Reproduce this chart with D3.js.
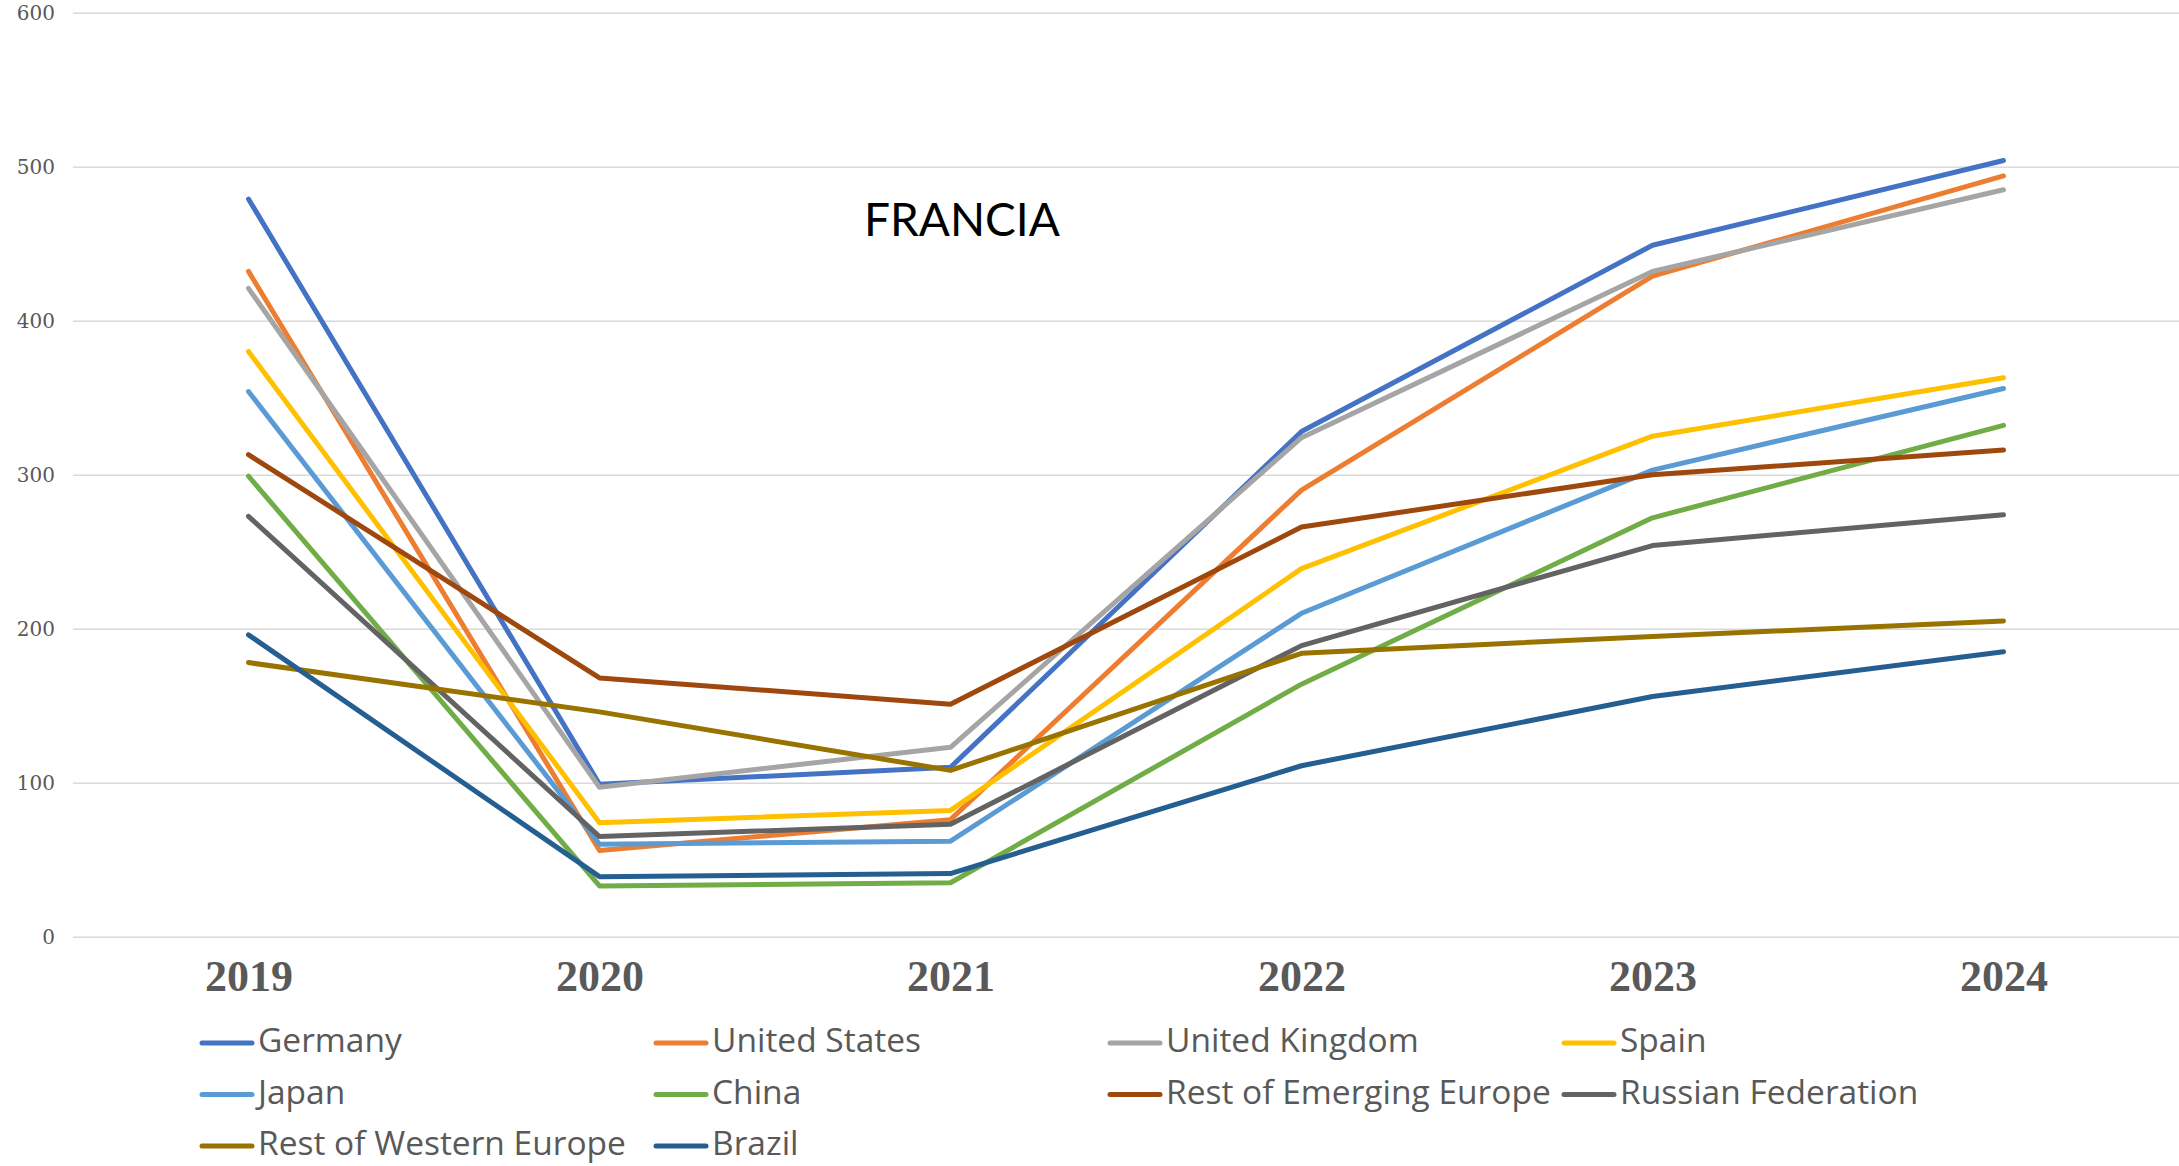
<!DOCTYPE html>
<html>
<head>
<meta charset="utf-8">
<script src="https://cdn.jsdelivr.net/npm/d3@7"></script>
<style>
  html, body { margin: 0; padding: 0; background: #fff; overflow: hidden; }
</style>
</head>
<body>
<script>
// chart data
const years = ["2019", "2020", "2021", "2022", "2023", "2024"];
const yTicks = [0, 100, 200, 300, 400, 500, 600];

const seriesNames = [
  "Germany", "United States", "United Kingdom", "Spain",
  "Japan", "China", "Rest of Emerging Europe", "Russian Federation",
  "Rest of Western Europe", "Brazil"
];

const germany      = [479,  99, 110, 328, 449, 504];
const unitedStates = [432,  56,  76, 290, 429, 494];
const unitedKingdom= [421,  97, 123, 324, 432, 485];
const spain        = [380,  74,  82, 239, 325, 363];
const japan        = [354,  60,  62, 210, 303, 356];
const china        = [299,  33,  35, 164, 272, 332];
const restEmerging = [313, 168, 151, 266, 300, 316];
const russia       = [273,  65,  73, 189, 254, 274];
const restWestern  = [178, 146, 108, 184, 195, 205];
const brazil       = [196,  39,  41, 111, 156, 185];

const seriesValues = [germany, unitedStates, unitedKingdom, spain, japan,
  china, restEmerging, russia, restWestern, brazil];

const seriesColors = ["#4472C4", "#ED7D31", "#A5A5A5", "#FFC000", "#5B9BD5",
  "#70AD47", "#9E480E", "#636363", "#997300", "#255E91"];

let width = 2179, height = 1166;
let plot = {left: 73, right: 2179, top: 12.7, bottom: 936.7};
let svg = null;
let x, y = null;

appendSvg("body");
setupScales();
appendGrid();
appendXAxis();
appendLines();
appendLabel();
appendLegend();

function appendSvg(domElement) {
  svg = d3.select(domElement).append("svg")
    .attr("width", width)
    .attr("height", height);
}

function setupScales() {
  x = d3.scalePoint()
    .domain(years)
    .range([plot.left, plot.right])
    .padding(0.5);

  y = d3.scaleLinear()
    .domain([0, 600])
    .range([plot.bottom, plot.top]);
}

function appendGrid() {
  let g = svg.append("g")
    .attr("transform", `translate(${plot.left},0)`)
    .call(d3.axisLeft(y).tickValues(yTicks)
      .tickSize(-(plot.right - plot.left)).tickPadding(18));

  g.select(".domain").remove();
  g.selectAll(".tick line")
    .attr("stroke", "#d9d9d9")
    .attr("stroke-width", 1.5);
  g.selectAll(".tick text")
    .attr("fill", "#595959")
    .attr("font-family", "'DejaVu Serif', serif")
    .attr("font-size", 20);
}

function appendXAxis() {
  let g = svg.append("g")
    .attr("transform", `translate(0,${plot.bottom})`)
    .call(d3.axisBottom(x).tickSize(0).tickPadding(0));

  g.select(".domain").remove();
  g.selectAll(".tick text")
    .attr("dy", null)
    .attr("y", 54)
    .attr("fill", "#595959")
    .attr("font-family", "'Liberation Serif', 'Times New Roman', serif")
    .attr("font-weight", "bold")
    .attr("font-size", 44);
}

function appendLines() {
  let line = d3.line()
    .x(function(d, i) { return x(years[i]); })
    .y(function(d) { return y(d); });

  svg.append("g")
    .selectAll("path")
    .data(seriesValues)
    .enter()
    .append("path")
      .attr("d", line)
      .attr("fill", "none")
      .attr("stroke", function(d, i) { return seriesColors[i]; })
      .attr("stroke-width", 5)
      .attr("stroke-linejoin", "round")
      .attr("stroke-linecap", "round");
}

function appendLabel() {
  svg.append("text")
    .attr("x", 864)
    .attr("y", 236)
    .attr("font-family", "Lato, 'Open Sans', sans-serif")
    .attr("font-size", 46)
    .attr("fill", "#000")
    .text("FRANCIA");
}

function appendLegend() {
  // four columns, three rows
  let items = svg.append("g")
    .attr("class", "legend")
    .selectAll("g")
    .data(seriesNames)
    .enter()
    .append("g")
      .attr("transform", function(d, i) {
        return `translate(${200 + (i % 4) * 454}, ${1043 + Math.floor(i / 4) * 51.5})`;
      });

  items.append("line")
    .attr("x1", 2).attr("x2", 52)
    .attr("y1", 0).attr("y2", 0)
    .attr("stroke", function(d, i) { return seriesColors[i]; })
    .attr("stroke-width", 5)
    .attr("stroke-linecap", "round");

  items.append("text")
    .attr("x", 58)
    .attr("y", 9)
    .attr("font-family", "'Open Sans', sans-serif")
    .attr("font-size", 33.5)
    .attr("fill", "#595959")
    .text(function(d) { return d; });
}
</script>
</body>
</html>
